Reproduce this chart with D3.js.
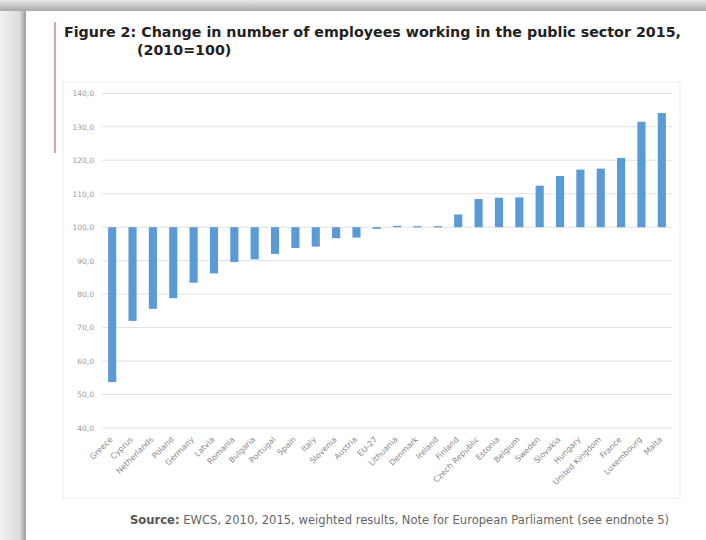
<!DOCTYPE html>
<html><head><meta charset="utf-8">
<script src="https://cdn.jsdelivr.net/npm/d3@7"></script>
<style>
html,body{margin:0;padding:0;background:#fff;}
svg{display:block;}
</style></head>
<body>
<svg id="c" width="706" height="540"></svg>
<script>
const categories = ["Greece","Cyprus","Netherlands","Poland","Germany","Latvia","Romania","Bulgaria","Portugal","Spain","Italy","Slovenia","Austria","EU-27","Lithuania","Denmark","Ireland","Finland","Czech Republic","Estonia","Belgium","Sweden","Slovakia","Hungary","United Kingdom","France","Luxembourg","Malta"];
const values = [53.7,72.0,75.6,78.8,83.4,86.2,89.6,90.4,92.0,93.8,94.2,96.7,96.9,99.5,100.4,100.3,100.3,103.8,108.4,108.8,108.9,112.4,115.3,117.2,117.5,120.7,131.5,134.1];
const yTicks = [40,50,60,70,80,90,100,110,120,130,140];
const baseline = 100;
const titleLines = ["Figure 2: Change in number of employees working in the public sector 2015,","(2010=100)"];
const sourceBold = "Source:";
const sourceText = " EWCS, 2010, 2015, weighted results, Note for European Parliament (see endnote 5)";

const svg = d3.select("#c");
const W = 706, H = 540;

// page frame
const defs = svg.append("defs");
const gTop = defs.append("linearGradient").attr("id","gt").attr("x1",0).attr("y1",0).attr("x2",0).attr("y2",1);
gTop.append("stop").attr("offset","0%").attr("stop-color","#e6e6e6");
gTop.append("stop").attr("offset","100%").attr("stop-color","#a9a9a9");
const gLeft = defs.append("linearGradient").attr("id","gl").attr("x1",0).attr("y1",0).attr("x2",1).attr("y2",0);
gLeft.append("stop").attr("offset","0%").attr("stop-color","#f2f2f2");
gLeft.append("stop").attr("offset","75%").attr("stop-color","#dcdcdc");
gLeft.append("stop").attr("offset","100%").attr("stop-color","#9a9a9a");
svg.append("rect").attr("x",0).attr("y",0).attr("width",W).attr("height",H).attr("fill","#fff");
svg.append("rect").attr("x",0).attr("y",0).attr("width",26).attr("height",H).attr("fill","url(#gl)");
svg.append("rect").attr("x",0).attr("y",0).attr("width",W).attr("height",11).attr("fill","url(#gt)");

// mauve margin line
svg.append("line").attr("x1",55).attr("x2",55).attr("y1",22).attr("y2",153)
  .attr("stroke","#c9a9b3").attr("stroke-width",2);

// title
const font = "'DejaVu Sans', Verdana, sans-serif";
const t1 = svg.append("text").attr("x",64).attr("y",37).attr("font-family",font)
  .attr("font-weight","bold").attr("font-size",13).attr("fill","#222").text(titleLines[0]);
const w1 = t1.node().getComputedTextLength();
const fs = 13 * 617 / w1;
t1.attr("font-size", fs);
svg.append("text").attr("x",137).attr("y",55).attr("font-family",font)
  .attr("font-weight","bold").attr("font-size",fs).attr("fill","#222").text(titleLines[1]);

// chart frame
svg.append("rect").attr("x",63).attr("y",82).attr("width",617).attr("height",416)
  .attr("fill","none").attr("stroke","#ececec");

const x = d3.scaleBand().domain(categories).range([102,672]).paddingInner(0.6).paddingOuter(0.3);
const y = d3.scaleLinear().domain([40,140]).range([428,93.3]);

// gridlines
svg.append("g").selectAll("line").data(yTicks).join("line")
  .attr("x1",102).attr("x2",672).attr("y1",d=>y(d)).attr("y2",d=>y(d))
  .attr("stroke","#e0e0e0").attr("stroke-width",1);

// y axis labels
const yAxis = d3.axisLeft(y).tickValues(yTicks).tickSize(0).tickPadding(0)
  .tickFormat(d => d3.format(".1f")(d).replace(".",","));
const ga = svg.append("g").attr("transform","translate(94,0)").call(yAxis);
ga.select(".domain").remove();
ga.selectAll("text").attr("font-family",font).attr("font-size",7.5).attr("fill","#9a9a9a");

// bars
svg.append("g").selectAll("rect").data(values).join("rect")
  .attr("x",(d,i)=>x(categories[i]))
  .attr("width",x.bandwidth())
  .attr("y",d=>y(Math.max(d,baseline)))
  .attr("height",d=>Math.max(1.2, Math.abs(y(d)-y(baseline))))
  .attr("fill","#5b9bd5");

// x labels
const xAxis = d3.axisBottom(x).tickSize(0).tickPadding(0);
const gx = svg.append("g").attr("transform","translate(0,434)").call(xAxis);
gx.select(".domain").remove();
gx.selectAll(".tick text")
  .attr("font-family",font).attr("font-size",8).attr("fill","#8a8a8a")
  .attr("text-anchor","end").attr("dy",0).attr("y",0).attr("x",0)
  .attr("transform","translate(1,6) rotate(-45)");

// source
const st = svg.append("text").attr("x",130).attr("y",524).attr("font-family",font)
  .attr("font-size",10).attr("fill","#666");
st.append("tspan").attr("font-weight","bold").attr("fill","#555").text(sourceBold);
st.append("tspan").text(sourceText);
const sw = st.node().getComputedTextLength();
st.attr("font-size", 10 * 540 / sw);
</script>
</body></html>
